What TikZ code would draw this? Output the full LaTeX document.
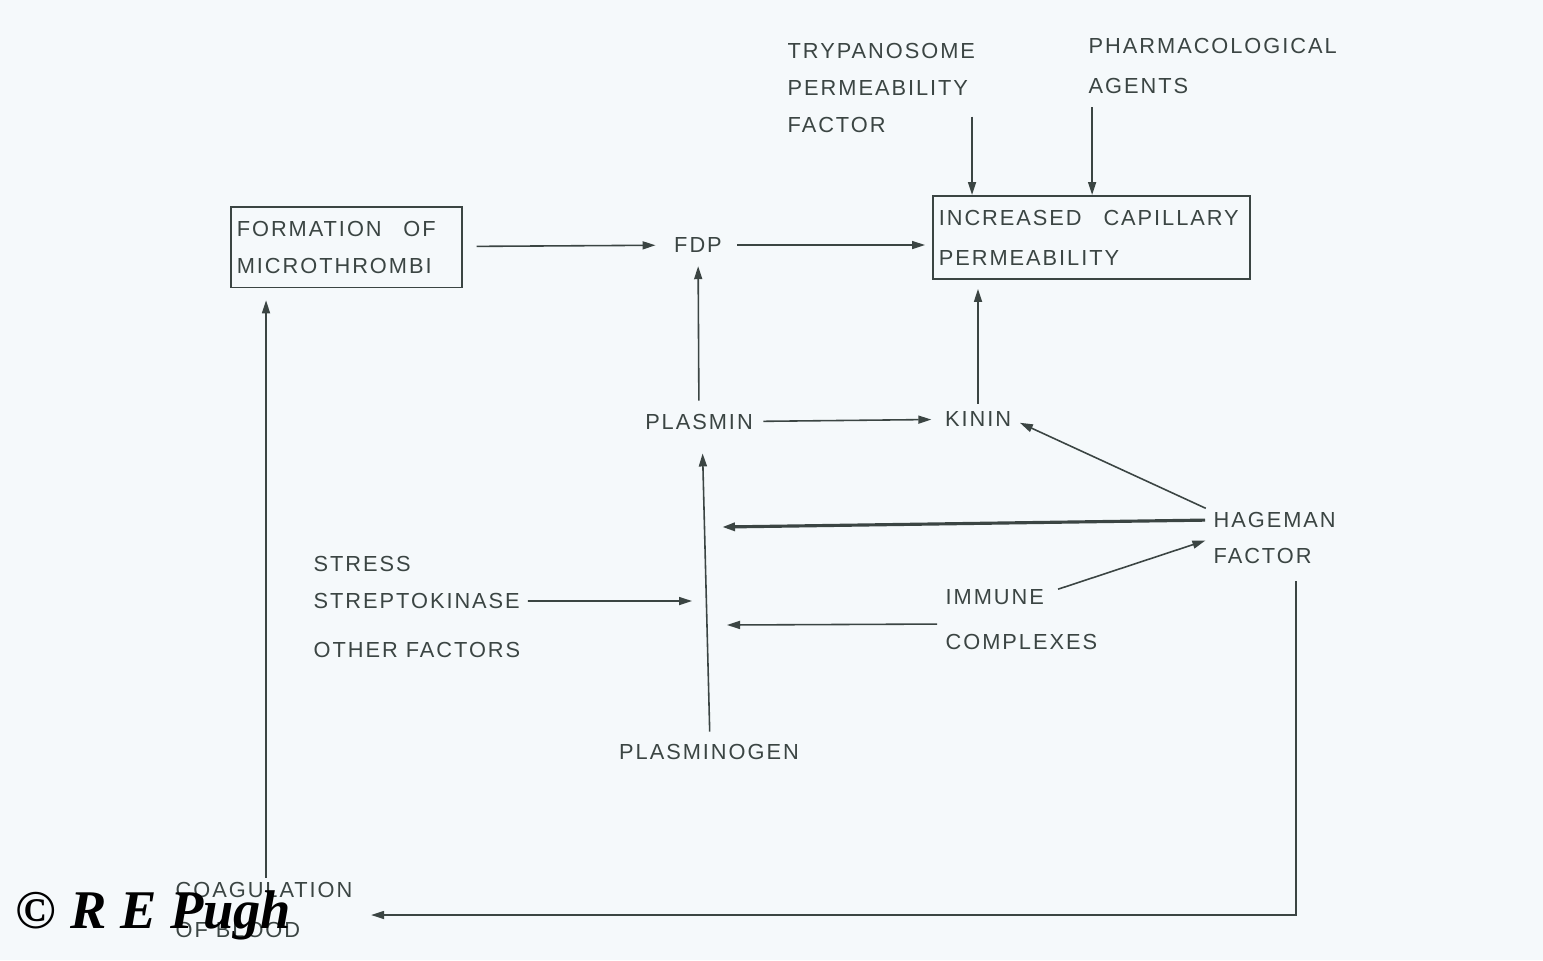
\documentclass[tikz,border=0pt]{standalone}
\usepackage{fontspec}
\setmainfont[LetterSpace=9]{Liberation Sans}
\newfontfamily\sigfont{Liberation Serif}
\usetikzlibrary{arrows.meta,calc}

\definecolor{ink}{HTML}{3B4543}
\definecolor{paper}{HTML}{F5F9FB}

\begin{document}
\begin{tikzpicture}[x=0.01cm, y=-0.01cm,
    lbl/.style={inner sep=0pt, align=left, text=ink, font=\fontsize{6.2}{10.6}\selectfont},
    boxed/.style={lbl, draw=ink, line width=0.45pt, inner xsep=0.06cm, inner ysep=0.14cm},
    arr/.style={draw=ink, line width=0.45pt, -{Triangle[length=0.13cm, width=0.08cm]}},
    thickarr/.style={arr, line width=0.9pt}]

			\fill[paper] (0,0) rectangle (1543,960);
			\useasboundingbox (0,0) rectangle (1543,960);

			% Nodes
			\node[boxed, anchor=north west, text width=2.19cm] (frm) at (230,206) {FORMATION\quad OF\\MICROTHROMBI};
			\node[lbl] (fdp) at (698,245) {FDP};
			\node[boxed, anchor=north west, text width=3.05cm] (inc) at (932,195) {INCREASED\quad CAPILLARY\\[0.8pt]PERMEABILITY};
			\node[lbl, anchor=west] (try) at (787,88) {TRYPANOSOME\\PERMEABILITY\\FACTOR};
			\node[lbl, anchor=west, font=\fontsize{6.2}{11.4}\selectfont] (pha) at (1088,66) {PHARMACOLOGICAL\\AGENTS};
			\node[lbl] (pls) at (699,422) {PLASMIN};
			\node[lbl] (kin) at (978,419) {KININ};
			\node[lbl, anchor=west, font=\fontsize{6.2}{10.2}\selectfont] (hag) at (1213,538) {HAGEMAN\\FACTOR};
			\node[lbl, anchor=west, font=\fontsize{6.2}{12.8}\selectfont] (imm) at (945,620) {IMMUNE\\COMPLEXES};
			\node[lbl, anchor=west] (str) at (313,607) {STRESS\\STREPTOKINASE\\[3.4pt]OTHER FACTORS};
			\node[lbl] (plg) at (709,752) {PLASMINOGEN};
			\node[lbl, anchor=west, font=\fontsize{6.2}{11.4}\selectfont] (coa) at (175,910) {COAGULATION\\OF BLOOD};
			\node[inner sep=0pt, anchor=west, font=\sigfont\fontsize{15.5}{15.5}\selectfont\bfseries\itshape] (sig) at (15,915) {\textcopyright\ R E Pugh};

			% Points on the plasminogen line
			\coordinate (m1) at (722,527);
			\coordinate (m2) at (727,625);
			\coordinate (m3) at (692,601);

			% Top row
			\draw[arr, shorten <=0.14cm, shorten >=0.18cm] (frm) -- (fdp);
			\draw[arr, shorten <=0.15cm, shorten >=0.07cm] (fdp.east) -- (fdp.east -| inc.west);
			\draw[arr] ([xshift=0.4cm, yshift=0.17cm]inc.north west |- try.south) -- ([xshift=0.4cm]inc.north west);
			\draw[arr] ([xshift=1.6cm, yshift=-0.13cm]inc.north west |- pha.south) -- ([xshift=1.6cm]inc.north west);

			% Middle
			\draw[arr, shorten <=0.13cm, shorten >=0.13cm] (pls) -- (fdp);
			\draw[arr, shorten <=0.1cm, shorten >=0.13cm] (pls) -- (kin);
			\draw[arr, shorten <=0.07cm, shorten >=0.09cm] (kin.north) -- (kin.north |- inc.south);
			\draw[arr, shorten <=0.08cm, shorten >=0.09cm] (hag.north west) -- (kin.east);
			\draw[thickarr, shorten <=0.08cm] ([yshift=0.18cm]hag.west) -- (m1);
			\draw[arr, shorten >=0.08cm] ([xshift=1.13cm]imm.north west) -- (hag.west);
			\draw[arr, shorten <=0.08cm] ([yshift=-0.04cm]imm.west) -- (m2);
			\draw[arr, shorten <=0.07cm] ([yshift=0.06cm]str.east) -- (m3);
			\draw[arr, shorten <=0.12cm, shorten >=0.23cm] ([xshift=0.01cm]plg.north) -- ([xshift=0.03cm]pls.south);

			% Coagulation loop
			\draw[arr, shorten >=0.12cm] ([xshift=0.36cm, yshift=0.04cm]frm.south west |- coa.north) -- ([xshift=0.36cm]frm.south west);
			\draw[arr, shorten >=0.18cm] ([xshift=0.83cm, yshift=-0.17cm]hag.south west) |- ([yshift=-0.05cm]coa.east);

		\end{tikzpicture}
\end{document}
